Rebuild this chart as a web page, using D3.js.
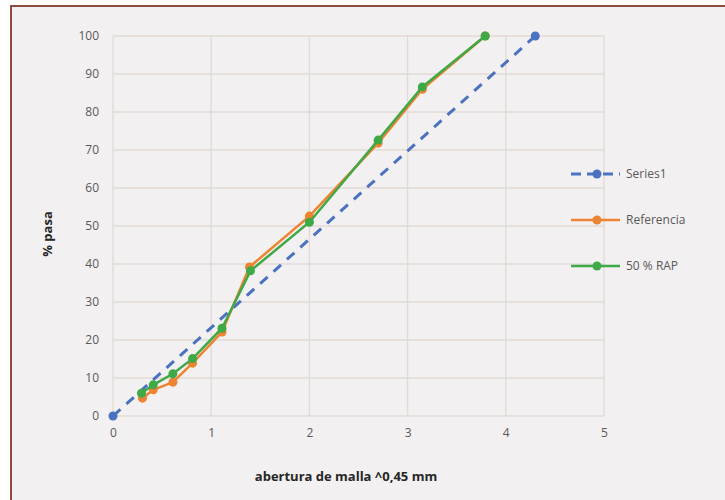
<!DOCTYPE html>
<html>
<head>
<meta charset="utf-8">
<script src="https://cdn.jsdelivr.net/npm/d3@7"></script>
<style>
  body { margin: 0; background: #fff; }
  svg { display: block; }
</style>
</head>
<body>
<div id="chart"></div>
<script>
// datos
var xTicks = [0, 1, 2, 3, 4, 5];
var yTicks = [0, 10, 20, 30, 40, 50, 60, 70, 80, 90, 100];

var series1X = [0, 4.3];
var series1Y = [0, 100];

var refX = [0.30, 0.41, 0.61, 0.81, 1.11, 1.39, 2.0, 2.70, 3.15, 3.79];
var refY = [4.7, 6.9, 8.9, 13.9, 22.1, 39.2, 52.6, 71.8, 86.0, 100];

var rapX = [0.29, 0.41, 0.61, 0.81, 1.11, 1.40, 2.0, 2.70, 3.15, 3.79];
var rapY = [6.0, 8.2, 11.1, 15.1, 23.1, 38.2, 51.0, 72.6, 86.6, 100];

var seriesNames = ["Series1", "Referencia", "50 % RAP"];
var seriesColors = ["#4a72c0", "#ee8431", "#3fa847"];

var width = 725, height = 500;
var margin = {top: 36, left: 113, right: 121, bottom: 84};

var svg = d3.select("#chart").append("svg")
    .attr("width", width)
    .attr("height", height);

// fondo y marco
svg.append("rect").attr("x", 0).attr("y", 0).attr("width", width).attr("height", height).attr("fill", "#ffffff");
svg.append("rect").attr("x", 11).attr("y", 6).attr("width", width).attr("height", height)
    .attr("fill", "#f2f0f0").attr("stroke", "#8c4b3c").attr("stroke-width", 2);

var x = d3.scaleLinear().domain([0, 5]).range([margin.left, width - margin.right]);
var y = d3.scaleLinear().domain([0, 100]).range([height - margin.bottom, margin.top]);

// rejilla
svg.append("g").selectAll("line.h")
    .data(yTicks).enter().append("line")
    .attr("x1", x(0)).attr("x2", x(5))
    .attr("y1", function(d) { return y(d); })
    .attr("y2", function(d) { return y(d); })
    .attr("stroke", "#e2dad6").attr("stroke-width", 1.3);

svg.append("g").selectAll("line.v")
    .data(xTicks).enter().append("line")
    .attr("y1", y(0)).attr("y2", y(100))
    .attr("x1", function(d) { return x(d); })
    .attr("x2", function(d) { return x(d); })
    .attr("stroke", "#e2dad6").attr("stroke-width", 1.3);

// ejes
var xAxis = d3.axisBottom(x).tickValues(xTicks).tickFormat(d3.format("d")).tickSize(0).tickPadding(12);
var yAxis = d3.axisLeft(y).tickValues(yTicks).tickFormat(d3.format("d")).tickSize(0).tickPadding(14);

var gx = svg.append("g").attr("transform", "translate(0," + y(0) + ")").call(xAxis);
var gy = svg.append("g").attr("transform", "translate(" + x(0) + ",0)").call(yAxis);
[gx, gy].forEach(function(g) {
    g.select(".domain").remove();
    g.selectAll("text")
        .attr("fill", "#595959")
        .style("font-family", "'Open Sans', sans-serif")
        .style("font-size", "12px");
});

// titulos
svg.append("text")
    .attr("x", 346).attr("y", 481)
    .attr("text-anchor", "middle")
    .style("font-family", "'Open Sans', sans-serif")
    .style("font-size", "13px").style("font-weight", "bold")
    .attr("fill", "#262626")
    .text("abertura de malla ^0,45 mm");

svg.append("text")
    .attr("transform", "translate(52,234) rotate(-90)")
    .attr("text-anchor", "middle")
    .style("font-family", "'Open Sans', sans-serif")
    .style("font-size", "13px").style("font-weight", "bold")
    .attr("fill", "#262626")
    .text("% pasa");

// series
var allSeries = [
    {x: series1X, y: series1Y, dash: "10,8"},
    {x: refX, y: refY, dash: null},
    {x: rapX, y: rapY, dash: null}
];

var line = d3.line()
    .x(function(d) { return x(d[0]); })
    .y(function(d) { return y(d[1]); });

allSeries.forEach(function(s, i) {
    var pts = d3.zip(s.x, s.y);
    svg.append("path")
        .datum(pts)
        .attr("d", line)
        .attr("fill", "none")
        .attr("stroke", seriesColors[i])
        .attr("stroke-width", i == 0 ? 3 : 2.5)
        .attr("stroke-dasharray", s.dash);
    svg.append("g").selectAll("circle")
        .data(pts).enter().append("circle")
        .attr("cx", function(d) { return x(d[0]); })
        .attr("cy", function(d) { return y(d[1]); })
        .attr("r", 4.5)
        .attr("fill", seriesColors[i]);
});

// leyenda
var legendY = [174, 220, 266];
var legend = svg.append("g");
seriesNames.forEach(function(name, i) {
    var g = legend.append("g").attr("transform", "translate(0," + legendY[i] + ")");
    g.append("line")
        .attr("x1", 571).attr("x2", 620)
        .attr("stroke", seriesColors[i])
        .attr("stroke-width", i == 0 ? 3 : 2.5)
        .attr("stroke-dasharray", i == 0 ? "10,6" : null);
    g.append("circle").attr("cx", 597).attr("cy", 0).attr("r", 4.5).attr("fill", seriesColors[i]);
    g.append("text")
        .attr("x", 626).attr("y", 4)
        .attr("fill", "#595959")
        .style("font-family", "'Open Sans', sans-serif")
        .style("font-size", "12px")
        .text(name);
});
</script>
</body>
</html>
